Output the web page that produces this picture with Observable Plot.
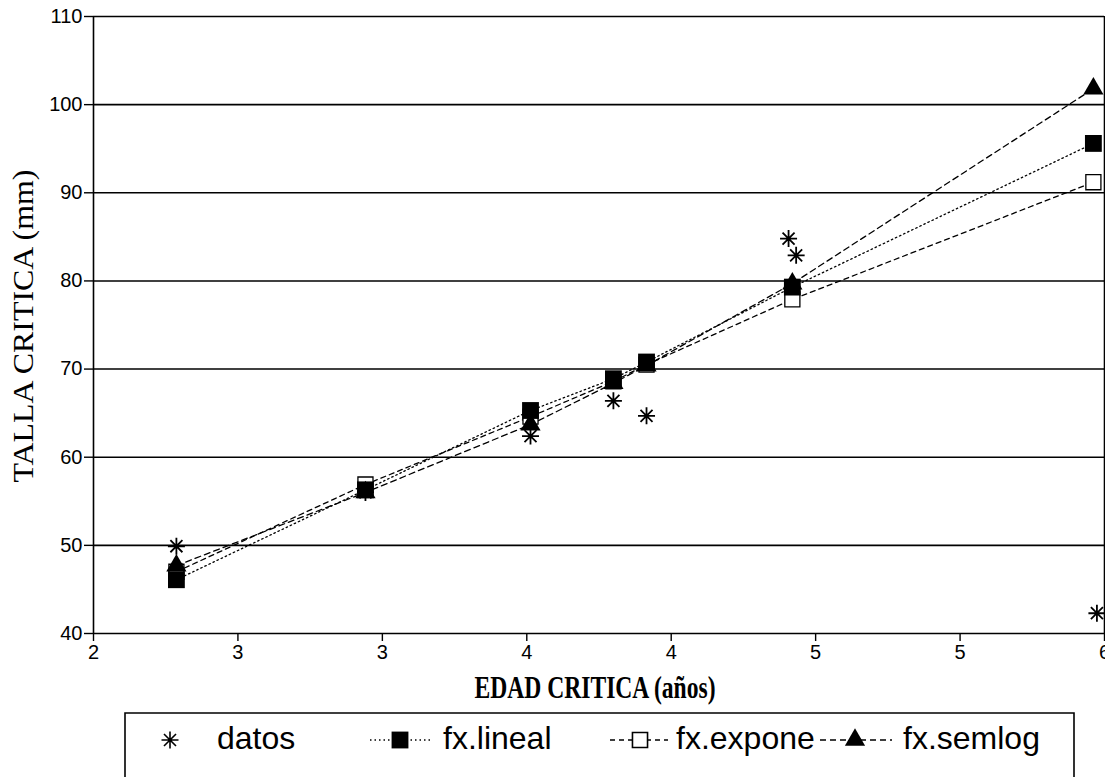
<!DOCTYPE html>
<html><head><meta charset="utf-8">
<script src="https://cdn.jsdelivr.net/npm/d3@7"></script>
<script src="https://cdn.jsdelivr.net/npm/@observablehq/plot@0.6"></script>
<style>
body{margin:0;background:#fff;}
#chart{position:relative;width:1105px;height:777px;overflow:hidden;background:#fff;}
</style></head><body><div id="chart"></div>
<script>
// ---- data ----
const xTicks = [2, 2.5714, 3.1429, 3.7143, 4.2857, 4.8571, 5.4286, 6];
const xTickLabels = ["2", "3", "3", "4", "4", "5", "5", "6"];
const yTicks = [40, 50, 60, 70, 80, 90, 100, 110];

const datosX = [2.328, 3.076, 3.729, 4.057, 4.188, 4.75, 4.78, 5.97];
const datosY = [49.9, 56.0, 62.4, 66.4, 64.7, 84.8, 82.9, 42.3];

const fitX   = [2.328, 3.076, 3.729, 4.057, 4.188, 4.765, 5.956];
const lineal = [46.1, 56.3, 65.3, 68.9, 70.8, 79.3, 95.6];
const expone = [47.0, 56.9, 64.6, 68.6, 70.5, 77.9, 91.2];
const semlog = [47.7, 56.0, 63.7, 68.4, 70.4, 79.7, 101.8];

const seriesNames = ["datos", "fx.lineal", "fx.expone", "fx.semlog"];
const xTitle = "EDAD CRITICA (años)";
const yTitle = "TALLA CRITICA (mm)";

// ---- build ----
const datos = datosX.map((x, i) => ({x, y: datosY[i]}));
const mk = vals => fitX.map((x, i) => ({x, y: vals[i]}));
const dLin = mk(lineal), dExp = mk(expone), dSem = mk(semlog);

const asterisk8 = {
  draw(ctx, size) {
    const r = Math.sqrt(size / Math.PI);
    for (let k = 0; k < 4; k++) {
      const a = k * Math.PI / 4, dx = r * Math.cos(a), dy = r * Math.sin(a);
      ctx.moveTo(-dx, -dy); ctx.lineTo(dx, dy);
    }
  }
};

const lineStyle = {stroke: "#000", strokeWidth: 1.3};

const plot = Plot.plot({
  width: 1105, height: 777,
  marginLeft: 93, marginRight: 1, marginTop: 16, marginBottom: 144,
  x: {domain: [2, 6]},
  y: {domain: [40, 110]},
  style: {fontFamily: "'Liberation Sans', Arial, sans-serif", fontSize: "20px", color: "#000", background: "#fff", overflow: "visible"},
  marks: [
    Plot.gridY(yTicks, {stroke: "#000", strokeOpacity: 1, strokeWidth: 1.6}),
    Plot.ruleX([2, 6], {stroke: "#000", strokeWidth: 1.6}),
    Plot.axisY(yTicks, {tickSize: 9, tickPadding: 2, label: null, strokeWidth: 1.4}),
    Plot.axisX(xTicks, {tickSize: 8, tickPadding: 3, label: null, strokeWidth: 1.4,
      tickFormat: d => xTickLabels[xTicks.indexOf(d)]}),
    Plot.line(dLin, {x: "x", y: "y", ...lineStyle, strokeDasharray: "1.5,3"}),
    Plot.line(dExp, {x: "x", y: "y", ...lineStyle, strokeDasharray: "5,4"}),
    Plot.line(dSem, {x: "x", y: "y", ...lineStyle, strokeDasharray: "6,4"}),
    Plot.dot(dExp, {x: "x", y: "y", symbol: "square", r: 8.5, fill: "#fff", stroke: "#000", strokeWidth: 1.3}),
    Plot.dot(dSem, {x: "x", y: "y", symbol: "triangle", r: 7.5, fill: "#000", stroke: "none"}),
    Plot.dot(dLin, {x: "x", y: "y", symbol: "square", r: 9.5, fill: "#000", stroke: "none"}),
    Plot.dot(datos, {x: "x", y: "y", symbol: asterisk8, r: 8.5, fill: "none", stroke: "#000", strokeWidth: 1.8})
  ]
});
document.getElementById("chart").appendChild(plot);

// ---- titles and legend ----
const svg = d3.select(plot);
svg.append("text")
  .attr("transform", "translate(33,326) rotate(-90)")
  .attr("text-anchor", "middle")
  .attr("font-family", "'Liberation Serif', serif")
  .attr("font-size", 30)
  .attr("textLength", 313).attr("lengthAdjust", "spacingAndGlyphs")
  .attr("fill", "#000")
  .text(yTitle);
svg.append("text")
  .attr("x", 595).attr("y", 698)
  .attr("text-anchor", "middle")
  .attr("font-family", "'Liberation Serif', serif")
  .attr("font-weight", "bold")
  .attr("font-size", 31)
  .attr("textLength", 241).attr("lengthAdjust", "spacingAndGlyphs")
  .attr("fill", "#000")
  .text(xTitle);

const lg = svg.append("g");
lg.append("path").attr("d", "M125,780V713H1074V780").attr("fill", "none").attr("stroke", "#000").attr("stroke-width", 1.6);
const ly = 740;
const legendItems = [
  {name: seriesNames[0], sym: asterisk8, r: 8.5, fill: "none", stroke: "#000", cx: 170, tx: 217},
  {name: seriesNames[1], sym: d3.symbolSquare, r: 9.5, fill: "#000", stroke: "none", cx: 400, l0: 370, l1: 430, dash: "1.5,3", tx: 443},
  {name: seriesNames[2], sym: d3.symbolSquare, r: 8.5, fill: "#fff", stroke: "#000", cx: 640, l0: 610, l1: 668, dash: "5,4", tx: 676},
  {name: seriesNames[3], sym: d3.symbolTriangle, r: 7.5, fill: "#000", stroke: "none", cx: 855, l0: 820, l1: 892, dash: "6,4", tx: 903}
];
for (const it of legendItems) {
  if (it.l0 != null) {
    lg.append("line").attr("x1", it.l0).attr("x2", it.l1).attr("y1", ly).attr("y2", ly)
      .attr("stroke", "#000").attr("stroke-width", 1.3).attr("stroke-dasharray", it.dash);
  }
  lg.append("path")
    .attr("transform", `translate(${it.cx},${ly})`)
    .attr("d", d3.symbol(it.sym, it.r * it.r * Math.PI)())
    .attr("fill", it.fill).attr("stroke", it.stroke).attr("stroke-width", 1.6);
  lg.append("text").attr("x", it.tx).attr("y", 749)
    .attr("text-anchor", "start")
    .attr("font-family", "'Liberation Sans', Arial, sans-serif").attr("font-size", 32)
    .attr("fill", "#000").text(it.name);
}
</script></body></html>
